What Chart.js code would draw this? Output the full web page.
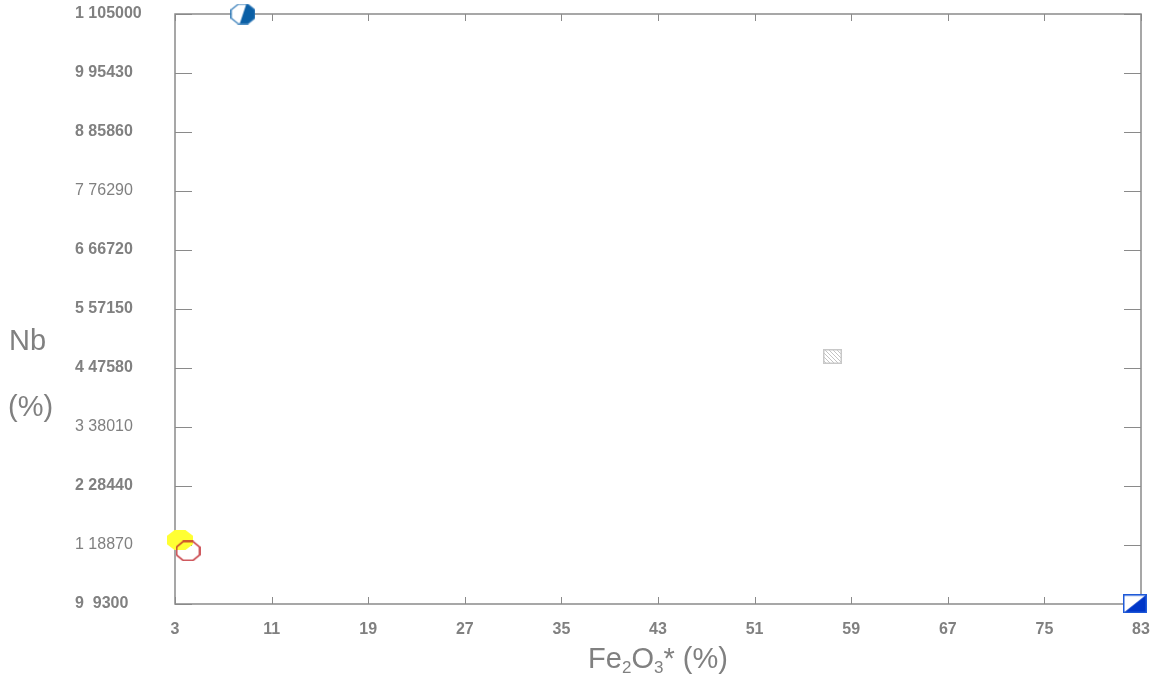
<!DOCTYPE html>
<html>
<head>
<meta charset="utf-8">
<script src="https://cdn.jsdelivr.net/npm/chart.js@4"></script>
<style>
  body { margin: 0; background: #fff; }
  #wrap { width: 1151px; height: 682px; }
</style>
</head>
<body>
<div id="wrap"><canvas id="chart" width="1151" height="682"></canvas></div>
<script>
// data
const seriesNames = ['A', 'B', 'C', 'D', 'E'];
const pointX = [8.63, 4.08, 3.41, 57.45, 82.5];
const pointY = [105000, 17900, 19680, 49450, 9350];

const xTickValues = [3, 11, 19, 27, 35, 43, 51, 59, 67, 75, 83];
const yTickValues = [9300, 18870, 28440, 38010, 47580, 57150, 66720, 76290, 85860, 95430, 105000];
const yTickLabels = ['9  9300', '1 18870', '2 28440', '3 38010', '4 47580', '5 57150',
                     '6 66720', '7 76290', '8 85860', '9 95430', '1 105000'];
const yTickBold = [true, false, true, false, true, true, true, false, true, true, true];

const grey = '#808080';
const fontFamily = '"Liberation Sans", Arial, sans-serif';

// marker images
function octPath(c, x0, y0, w, h) {
  const k = w * 0.29, kh = h * 0.29;
  c.beginPath();
  c.moveTo(x0 + k, y0); c.lineTo(x0 + w - k, y0); c.lineTo(x0 + w, y0 + kh);
  c.lineTo(x0 + w, y0 + h - kh); c.lineTo(x0 + w - k, y0 + h); c.lineTo(x0 + k, y0 + h);
  c.lineTo(x0, y0 + h - kh); c.lineTo(x0, y0 + kh); c.closePath();
}
function marker(w, h, draw) {
  const cv = document.createElement('canvas');
  cv.width = w; cv.height = h;
  draw(cv.getContext('2d'), w, h);
  return cv;
}
const blueOct = marker(25, 21, (c, w, h) => {
  octPath(c, 0.75, 0.75, w - 1.5, h - 1.5);
  c.fillStyle = '#fff'; c.fill();
  c.save(); c.clip();
  c.fillStyle = '#0b5fa5';
  c.beginPath(); c.moveTo(w * 0.64, 0); c.lineTo(w, 0); c.lineTo(w, h); c.lineTo(w * 0.36, h); c.closePath(); c.fill();
  c.restore();
  octPath(c, 0.75, 0.75, w - 1.5, h - 1.5);
  c.strokeStyle = '#2a75b5'; c.lineWidth = 1.2; c.stroke();
});
const redOct = marker(25, 21, (c, w, h) => {
  octPath(c, 1, 1, w - 2, h - 2);
  c.strokeStyle = '#c0242b'; c.lineWidth = 1.5; c.stroke();
});
const yellowOct = marker(26, 20, (c, w, h) => {
  octPath(c, 0, 0, w, h);
  c.fillStyle = '#ffff33'; c.fill();
});
const greySq = marker(19, 15, (c, w, h) => {
  c.fillStyle = '#fff'; c.fillRect(0, 0, w, h);
  c.save(); c.beginPath(); c.rect(0, 0, w, h); c.clip();
  c.strokeStyle = '#c4c4c4'; c.lineWidth = 1;
  for (let i = -h; i < w; i += 4) { c.beginPath(); c.moveTo(i, 0); c.lineTo(i + h, h); c.stroke(); }
  c.restore();
  c.strokeStyle = '#c8c8c8'; c.lineWidth = 1.5; c.strokeRect(0.75, 0.75, w - 1.5, h - 1.5);
});
const blueSq = marker(24, 19, (c, w, h) => {
  c.fillStyle = '#fff'; c.fillRect(0, 0, w, h);
  c.fillStyle = '#0036c8';
  c.beginPath(); c.moveTo(0, h); c.lineTo(w, h); c.lineTo(w, 0); c.closePath(); c.fill();
  c.strokeStyle = '#1f5ad8'; c.lineWidth = 1.5; c.strokeRect(0.75, 0.75, w - 1.5, h - 1.5);
});
const markers = [blueOct, redOct, yellowOct, greySq, blueSq];

// frame, inward ticks and axis titles
const framePlugin = {
  id: 'frame',
  beforeDatasetsDraw(chart) {
    const { ctx, chartArea: a, scales: { x, y } } = chart;
    ctx.save();
    ctx.strokeStyle = '#8a8a8a';
    ctx.lineWidth = 1;
    y.ticks.forEach(t => {
      const py = Math.round(y.getPixelForValue(t.value)) + 0.5;
      ctx.beginPath(); ctx.moveTo(a.left, py); ctx.lineTo(a.left + 17, py); ctx.stroke();
      ctx.beginPath(); ctx.moveTo(a.right - 17, py); ctx.lineTo(a.right, py); ctx.stroke();
    });
    x.ticks.forEach(t => {
      const px = Math.round(x.getPixelForValue(t.value)) + 0.5;
      ctx.beginPath(); ctx.moveTo(px, a.bottom); ctx.lineTo(px, a.bottom - 7); ctx.stroke();
      ctx.beginPath(); ctx.moveTo(px, a.top); ctx.lineTo(px, a.top + 7); ctx.stroke();
    });
    ctx.lineWidth = 1.5;
    ctx.strokeRect(a.left, a.top, a.right - a.left, a.bottom - a.top);

    // titles
    ctx.fillStyle = grey;
    ctx.textBaseline = 'alphabetic';
    ctx.textAlign = 'left';
    ctx.font = '29px ' + fontFamily;
    ctx.fillText('Nb', 9, 350);
    ctx.fillText('(%)', 8, 416);

    const parts = [['Fe', 29, 0], ['2', 17, 5], ['O', 29, 0], ['3', 17, 5], ['* (%)', 29, 0]];
    let total = 0;
    parts.forEach(p => { ctx.font = p[1] + 'px ' + fontFamily; total += ctx.measureText(p[0]).width; });
    let cx = (a.left + a.right) / 2 - total / 2;
    parts.forEach(p => {
      ctx.font = p[1] + 'px ' + fontFamily;
      ctx.fillText(p[0], cx, 668 + p[2]);
      cx += ctx.measureText(p[0]).width;
    });
    ctx.restore();
  }
};

new Chart(document.getElementById('chart'), {
  type: 'scatter',
  data: {
    datasets: seriesNames.map((name, i) => ({
      label: name,
      data: [{ x: pointX[i], y: pointY[i] }],
      pointStyle: markers[i],
      clip: false
    }))
  },
  options: {
    responsive: false,
    animation: false,
    layout: { padding: { left: 75, right: 10, top: 14, bottom: 0 } },
    plugins: { legend: { display: false }, tooltip: { enabled: false } },
    scales: {
      x: {
        type: 'linear', min: 3, max: 83,
        grid: { display: false, drawTicks: false },
        border: { display: false },
        afterBuildTicks: s => { s.ticks = xTickValues.map(v => ({ value: v })); },
        afterFit: s => { s.height = 78; s.paddingLeft = 0; s.paddingRight = 0; },
        ticks: {
          padding: 16, color: grey, maxRotation: 0, autoSkip: false,
          font: { family: fontFamily, size: 16, weight: 'bold' }
        }
      },
      y: {
        type: 'linear', min: 9300, max: 105000,
        grid: { display: false, drawTicks: false },
        border: { display: false },
        afterBuildTicks: s => { s.ticks = yTickValues.map(v => ({ value: v })); },
        afterFit: s => { s.width = 100; s.paddingTop = 0; s.paddingBottom = 0; },
        ticks: {
          crossAlign: 'far', color: grey, autoSkip: false,
          callback: (v, i) => yTickLabels[i],
          font: ctx => ({ family: fontFamily, size: 16, weight: yTickBold[ctx.index] ? 'bold' : 'normal' })
        }
      }
    }
  },
  plugins: [framePlugin]
});
</script>
</body>
</html>
